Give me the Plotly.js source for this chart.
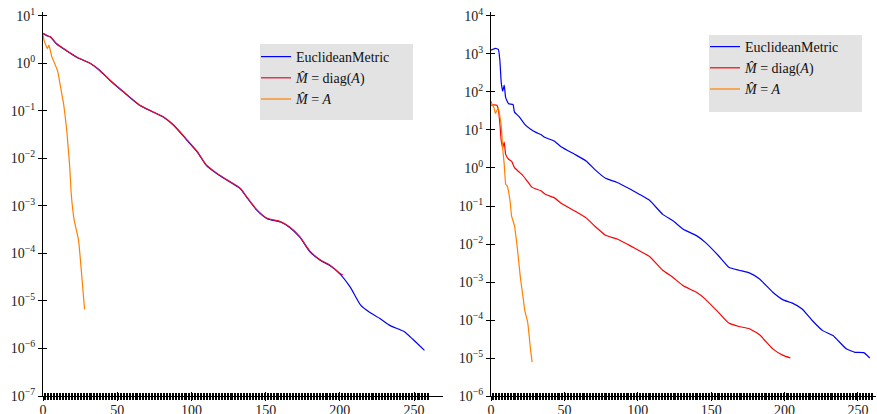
<!DOCTYPE html>
<html>
<head>
<meta charset="utf-8">
<script src="https://cdn.plot.ly/plotly-3.0.1.min.js"></script>
<style>html,body{margin:0;padding:0;background:#fff;}#chart{width:877px;height:414px;}</style>
</head>
<body>
<div id="chart"></div>
<script>
// ---------- data (left panel) ----------
const leftEuclidX = [0,2,3,5,9,16,23,32,38,45,54,65,74,81,88,97,104,110,117,124,133,137,144,151,160,166,173,180,187,193,200,207,214,220,227,234,243,249,257];
const leftEuclidY = [4.22,3.9,3.75,3.58,2.57,1.82,1.32,0.984,0.713,0.439,0.251,0.131,0.0944,0.0741,0.0495,0.024,0.0135,0.00713,0.00479,0.00347,0.00229,0.00155,0.000813,0.000537,0.000457,0.000355,0.000219,0.000107,7.08e-5,5.62e-5,3.72e-5,1.95e-5,8.13e-6,5.75e-6,4.27e-6,3.02e-6,2.29e-6,1.58e-6,9.1e-7];
const leftDiagX = [0,2,3,5,9,16,23,32,38,45,54,65,74,81,88,97,104,110,117,124,133,137,144,151,160,166,173,180,187,193,200,202];
const leftDiagY = [4.25,3.92,3.78,3.6,2.6,1.84,1.34,0.99,0.72,0.445,0.255,0.133,0.0955,0.075,0.0502,0.0245,0.0138,0.00725,0.00488,0.00353,0.00233,0.00158,0.000835,0.000548,0.000466,0.000362,0.000225,0.00011,7.25e-5,5.75e-5,3.82e-5,3.5e-5];
const leftFullX = [0,1,3,4,6,7,10,12,14,16,18,19,21,24,26,28];
const leftFullY = [3.89,2.82,2.04,2.4,1.35,1.15,0.661,0.295,0.132,0.0389,0.0066,0.00182,0.000501,0.000186,3.72e-5,6.6e-6];

// ---------- data (right panel) ----------
const rightEuclidX = [0,3,5,6,7,8,9,10,12,15,16,19,23,27,31,34,37,43,48,57,65,71,78,86,95,101,108,117,124,131,140,146,155,162,169,176,183,192,199,205,212,219,226,233,242,248,254,258];
const rightEuclidY = [1259,1413,1318,708,174,105,151,70.8,49,46.8,29.5,22.9,14.1,10.5,8.51,7.59,6.31,5.13,3.55,2.29,1.51,0.891,0.537,0.417,0.275,0.204,0.141,0.0603,0.0407,0.0245,0.0166,0.011,0.0049,0.00245,0.00204,0.00174,0.0012,0.000537,0.000339,0.000282,0.000195,9.55e-5,5.25e-5,3.89e-5,1.74e-5,1.41e-5,1.38e-5,1.0e-5];
const rightDiagX = [0,2,4,5,6,7,8,9,10,12,14,16,19,21,24,28,34,37,43,48,57,65,71,78,86,95,101,108,117,124,131,140,146,155,162,169,176,183,192,199,204];
const rightDiagY = [44.7,46,44.7,34.7,15.5,5.13,3.39,4.79,2.29,1.7,1.51,1.02,0.794,0.676,0.49,0.309,0.251,0.204,0.166,0.117,0.0741,0.0479,0.0288,0.017,0.0135,0.00891,0.00661,0.00468,0.00204,0.00132,0.000794,0.000537,0.000355,0.000158,8.32e-5,6.76e-5,5.89e-5,4.07e-5,1.74e-5,1.17e-5,1.0e-5];
const rightFullX = [0,1,2,3,5,6,7,8,9,10,11,13,14,16,18,20,22,23,25,26,27,28];
const rightFullY = [57.5,44.7,38.9,27.5,38,23.4,12.6,3.16,1.26,0.372,0.339,0.135,0.055,0.0302,0.00741,0.00132,0.000355,0.000178,8.71e-5,3.89e-5,1.58e-5,7.76e-6];

// ---------- tick labels ----------
const xTickVals = [0,50,100,150,200,250];
const xTickText = ['0','50','100','150','200','250'];
const leftYTickVals = [1e-7,1e-6,1e-5,1e-4,1e-3,1e-2,1e-1,1,10];
const leftYTickText = ['10<sup>−7</sup>','10<sup>−6</sup>','10<sup>−5</sup>','10<sup>−4</sup>','10<sup>−3</sup>','10<sup>−2</sup>','10<sup>−1</sup>','10<sup>0</sup>','10<sup>1</sup>'];
const rightYTickVals = [1e-6,1e-5,1e-4,1e-3,1e-2,1e-1,1,10,100,1000,10000];
const rightYTickText = ['10<sup>−6</sup>','10<sup>−5</sup>','10<sup>−4</sup>','10<sup>−3</sup>','10<sup>−2</sup>','10<sup>−1</sup>','10<sup>0</sup>','10<sup>1</sup>','10<sup>2</sup>','10<sup>3</sup>','10<sup>4</sup>'];
const seriesNames = ['EuclideanMetric','<i>M̂</i> = diag(<i>A</i>)','<i>M̂</i> = <i>A</i>'];

const minorVals = [];
for (let i = 0; i <= 260; i++) minorVals.push(i);

const W = 877, H = 414;
const FONT = 'Liberation Serif, Times New Roman, serif';
const BLUE = '#0000ff', RED = '#ff0000', RED_L = '#e0102e', ORANGE = '#ff8000';

function ln(x, y, name, color, xa, ya, leg, smooth) {
  const line = {color:color, width:1.2};
  if (smooth) { line.shape = 'spline'; line.smoothing = smooth; }
  return {type:'scatter', mode:'lines', x:x, y:y, name:name, xaxis:xa, yaxis:ya, legend:leg,
          line:line, hoverinfo:'skip'};
}
const data = [
  ln(leftEuclidX, leftEuclidY, seriesNames[0], BLUE, 'x', 'y', 'legend', 0.6),
  ln(leftDiagX, leftDiagY, seriesNames[1], RED_L, 'x', 'y', 'legend', 0.6),
  ln(leftFullX, leftFullY, seriesNames[2], ORANGE, 'x', 'y', 'legend', 0.3),
  ln(rightEuclidX, rightEuclidY, seriesNames[0], BLUE, 'x2', 'y2', 'legend2', 0.4),
  ln(rightDiagX, rightDiagY, seriesNames[1], RED, 'x2', 'y2', 'legend2', 0.4),
  ln(rightFullX, rightFullY, seriesNames[2], ORANGE, 'x2', 'y2', 'legend2', 0.3),
  {type:'scatter', x:[], y:[], xaxis:'x3', yaxis:'y3', showlegend:false, hoverinfo:'skip'},
  {type:'scatter', x:[], y:[], xaxis:'x4', yaxis:'y4', showlegend:false, hoverinfo:'skip'}
];

const yDom = [1 - 396/H, 1 - 12/H];
const lDom = [43/W, 443/W], rDom = [491/W, 876/W];
const lRange = [0, 269.5], rRange = [0, 262.3];
const lYRange = [-7, 1.078], rYRange = [-6, 4.105];

function xax(dom, range, anchor, inside, overlay) {
  const a = {domain:dom, range:range, anchor:anchor, showgrid:false, zeroline:false,
    tickmode:'array', tickvals:xTickVals, ticktext:xTickText,
    ticks: inside ? 'inside' : 'outside', ticklen:4, tickwidth:1, tickcolor:'#000',
    minor:{tickmode:'array', tickvals:minorVals, ticks: inside ? 'inside':'outside', ticklen:3, tickwidth:1, tickcolor:'#000'},
    showline:!inside, linecolor:'#000', linewidth:1, ticklabelstandoff:-3,
    showticklabels:!inside, tickfont:{family:FONT, size:14, color:'#222'}, fixedrange:true};
  if (overlay) a.overlaying = overlay;
  return a;
}
function yax(dom, range, anchor, vals, text, inside, overlay) {
  const a = {type:'log', domain:dom, range:range, anchor:anchor, showgrid:false, zeroline:false,
    tickmode:'array', tickvals:vals, ticktext:text,
    ticks: inside ? 'inside':'outside', ticklen:4, tickwidth:1, tickcolor:'#000',
    showline:!inside, linecolor:'#000', linewidth:1,
    showticklabels:!inside, tickfont:{family:FONT, size:14, color:'#222'}, fixedrange:true};
  if (overlay) a.overlaying = overlay;
  return a;
}

const layout = {
  width:W, height:H, margin:{l:0, r:0, t:0, b:0},
  paper_bgcolor:'#fff', plot_bgcolor:'rgba(0,0,0,0)',
  font:{family:FONT, size:14, color:'#222'},
  xaxis: xax(lDom, lRange, 'y', false),
  yaxis: yax(yDom, lYRange, 'x', leftYTickVals, leftYTickText, false),
  xaxis2: xax(rDom, rRange, 'y2', false),
  yaxis2: yax(yDom, rYRange, 'x2', rightYTickVals, rightYTickText, false),
  xaxis3: xax(lDom, lRange, 'y', true, 'x'),
  yaxis3: yax(yDom, lYRange, 'x', leftYTickVals, leftYTickText, true, 'y'),
  xaxis4: xax(rDom, rRange, 'y2', true, 'x2'),
  yaxis4: yax(yDom, rYRange, 'x2', rightYTickVals, rightYTickText, true, 'y2'),
  showlegend:true,
  legend:{x:256/W, y:1-41/H, xanchor:'left', yanchor:'top', bgcolor:'rgba(0,0,0,0)',
          font:{family:FONT, size:14, color:'#111'}, tracegroupgap:0, itemwidth:30},
  legend2:{x:705/W, y:1-31/H, xanchor:'left', yanchor:'top', bgcolor:'rgba(0,0,0,0)',
          font:{family:FONT, size:14, color:'#111'}, tracegroupgap:0, itemwidth:30},
  shapes:[
    {type:'rect', xref:'paper', yref:'paper', x0:260/W, x1:413/W, y0:1-120/H, y1:1-44/H,
     fillcolor:'#e3e3e3', line:{width:0}, layer:'below'},
    {type:'rect', xref:'paper', yref:'paper', x0:709/W, x1:862/W, y0:1-112/H, y1:1-35/H,
     fillcolor:'#e3e3e3', line:{width:0}, layer:'below'}
  ]
};

Plotly.newPlot('chart', data, layout, {displayModeBar:false, staticPlot:true});
</script>
</body>
</html>
